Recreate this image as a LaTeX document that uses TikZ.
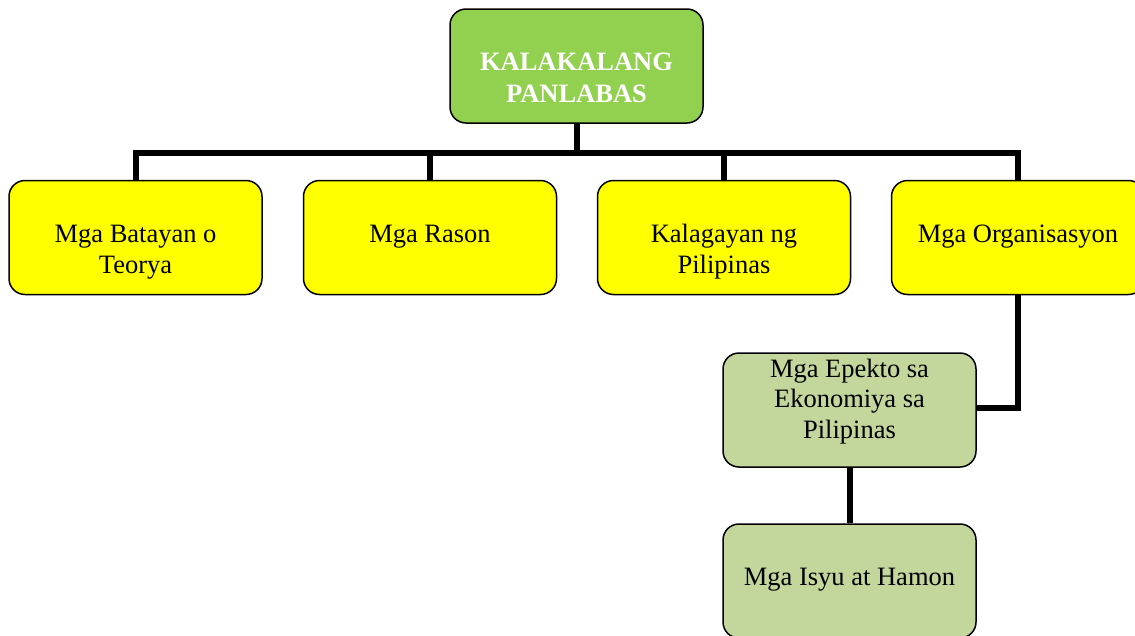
\documentclass[tikz,border=0pt]{standalone}
\usepackage{fontspec}
\setmainfont{Liberation Serif}
\definecolor{topgreen}{HTML}{92D050}
\definecolor{boxyellow}{HTML}{FFFF00}
\definecolor{lightgreen}{HTML}{C3D69B}
\tikzset{
  box/.style={draw=black, line width=1.5pt, rounded corners=16pt, minimum width=253pt, minimum height=114pt, inner sep=0pt},
  conn/.style={draw=black, line width=6pt},
  lbl/.style={font=\fontsize{26.5}{30.5}\selectfont, align=center, anchor=base, inner sep=0pt}
}
\begin{document}
\begin{tikzpicture}[x=1pt,y=-1pt]
\useasboundingbox (0,0) rectangle (1135,635);
\clip (0,0) rectangle (1135,635);
% boxes
\node[box, fill=topgreen] (top) at (576.5,66) {};
\node[box, fill=boxyellow] (y1) at (135.5,237.5) {};
\node[box, fill=boxyellow] (y2) at (430,237.5) {};
\node[box, fill=boxyellow] (y3) at (724,237.5) {};
\node[box, fill=boxyellow] (y4) at (1018,237.5) {};
\node[box, fill=lightgreen] (ep) at (849.5,410) {};
\node[box, fill=lightgreen] (is) at (849.5,581) {};
% connectors
\coordinate (bus) at (0,153);
\draw[conn] (y1.north) |- (y4.north |- bus) -- (y4.north);
\draw[conn] (top.south) -- (top.south |- bus);
\draw[conn] (y2.north) -- (y2.north |- bus);
\draw[conn] (y3.north) -- (y3.north |- bus);
\draw[conn] (y4.south) |- ([yshift=2pt]ep.east);
\draw[conn] (ep.south) -- (is.north);
% labels
\node[lbl, text=white, font=\fontsize{26.5}{32}\selectfont\bfseries] (ttop) at (576.5,102) {KALAKALANG\\PANLABAS};
\node[lbl] (t1) at (135.5,273) {Mga Batayan o\\Teorya};
\node[lbl] (t2) at (430,242) {Mga Rason};
\node[lbl] (t3) at (724,273) {Kalagayan ng\\Pilipinas};
\node[lbl] (t4) at (1018,242) {Mga Organisasyon};
\node[lbl] (tep) at (849.5,438) {Mga Epekto sa\\Ekonomiya sa\\Pilipinas};
\node[lbl] (tis) at (849.5,585) {Mga Isyu at Hamon};
\end{tikzpicture}
\end{document}
